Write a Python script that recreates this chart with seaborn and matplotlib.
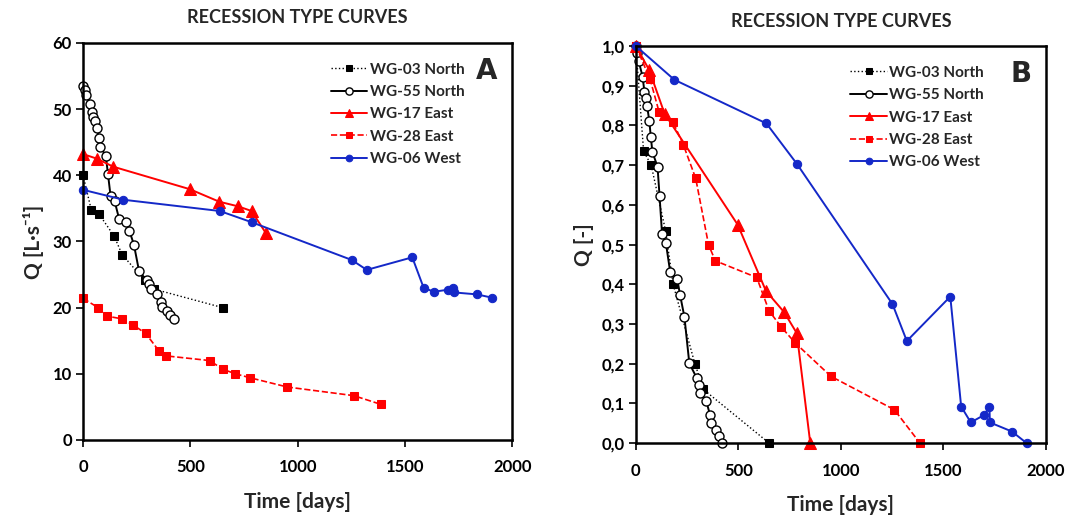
import matplotlib
matplotlib.use("Agg")
import matplotlib.pyplot as plt
import seaborn as sns
from matplotlib.ticker import FuncFormatter

# --- data ---
# WG-03 North
days_03 = [0, 38, 75, 145, 182, 288, 330, 650]
q_03 = [40.0, 34.8, 34.1, 30.8, 28.0, 24.1, 22.8, 20.0]
n_03 = [1.0, 0.735, 0.70, 0.535, 0.40, 0.20, 0.135, 0.0]

# WG-55 North
days_55 = [0, 7, 14, 33, 42, 48, 55, 66, 73, 81, 106, 116, 128, 147,
           168, 202, 216, 237, 261, 297, 307, 315, 343, 362, 367, 389, 405, 422]
q_55 = [53.5, 52.9, 52.2, 50.8, 49.5, 48.8, 48.2, 47.1, 45.7, 44.3, 42.9, 40.2, 36.9, 36.1,
        33.4, 32.9, 31.6, 29.5, 25.5, 24.1, 23.5, 22.8, 22.1, 20.8, 20.1, 19.5, 18.9, 18.3]
n_55 = [1.0, 0.983, 0.962, 0.923, 0.885, 0.868, 0.849, 0.811, 0.772, 0.733, 0.696, 0.621, 0.527, 0.503,
        0.43, 0.413, 0.373, 0.318, 0.201, 0.164, 0.147, 0.126, 0.107, 0.071, 0.05, 0.033, 0.018, 0.0]

# WG-17 East
days_17 = [0, 65, 140, 497, 635, 723, 785, 851]
q_17 = [43.2, 42.5, 41.3, 37.9, 36.0, 35.3, 34.6, 31.3]
n_17 = [1.0, 0.94, 0.83, 0.55, 0.383, 0.33, 0.277, 0.0]

# WG-28 East
days_28 = [0, 70, 113, 182, 232, 292, 355, 388, 590, 650, 710, 778, 952, 1261, 1386]
q_28 = [21.4, 20.0, 18.7, 18.3, 17.4, 16.1, 13.4, 12.7, 12.0, 10.7, 10.0, 9.4, 8.0, 6.7, 5.4]
n_28 = [1.0, 0.916, 0.835, 0.808, 0.751, 0.667, 0.499, 0.459, 0.417, 0.333, 0.292, 0.252, 0.168, 0.084, 0.0]

# WG-06 West
days_06 = [0, 188, 637, 786, 1252, 1322, 1534, 1587, 1634, 1700, 1725, 1727, 1835, 1906]
q_06 = [37.8, 36.3, 34.6, 32.9, 27.2, 25.7, 27.6, 23.0, 22.4, 22.7, 23.0, 22.3, 22.0, 21.5]
n_06 = [1.0, 0.915, 0.805, 0.703, 0.35, 0.257, 0.369, 0.092, 0.052, 0.071, 0.092, 0.052, 0.029, 0.0]

labels = ["WG-03 North", "WG-55 North", "WG-17 East", "WG-28 East", "WG-06 West"]
BLUE = "#1428c8"

sns.set_theme(style="white")
plt.rcParams["font.family"] = ["Lato", "DejaVu Sans"]
plt.rcParams["font.weight"] = "bold"

fig = plt.figure(figsize=(10.65, 5.17), dpi=100)
ax_a = fig.add_axes([0.078, 0.149, 0.403, 0.768])
ax_b = fig.add_axes([0.597, 0.143, 0.385, 0.768])


def draw_panel(ax, y03, y55, y17, y28, y06):
    common = dict(ax=ax, sort=False, estimator=None, clip_on=False)
    sns.lineplot(x=days_03, y=y03, color="black", linestyle=":", linewidth=1.0,
                 marker="s", markersize=6, markeredgecolor="black", label=labels[0], **common)
    sns.lineplot(x=days_55, y=y55, color="black", linestyle="-", linewidth=1.4,
                 marker="o", markersize=6.5, markerfacecolor="white", markeredgecolor="black",
                 markeredgewidth=1.0, label=labels[1], **common)
    sns.lineplot(x=days_17, y=y17, color="red", linestyle="-", linewidth=1.4,
                 marker="^", markersize=8, markeredgecolor="red", label=labels[2], **common)
    sns.lineplot(x=days_28, y=y28, color="red", linestyle="--", linewidth=1.2,
                 marker="s", markersize=6, markeredgecolor="red", label=labels[3], **common)
    sns.lineplot(x=days_06, y=y06, color=BLUE, linestyle="-", linewidth=1.4,
                 marker="o", markersize=6, markeredgecolor=BLUE, label=labels[4], **common)

    ax.set_xlim(0, 2000)
    ax.set_xticks([0, 500, 1000, 1500, 2000])
    for s in ax.spines.values():
        s.set_visible(True)
        s.set_color("black")
        s.set_linewidth(1.8)
    ax.tick_params(direction="out", length=5, width=1.2, colors="black",
                   labelsize=12, bottom=True, left=True)
    ax.tick_params(axis="x", pad=9)
    ax.tick_params(axis="y", pad=3)
    for t in ax.get_xticklabels() + ax.get_yticklabels():
        t.set_fontweight("bold")
    ax.set_xlabel("Time [days]", fontsize=15, fontweight="bold", labelpad=12)
    ax.set_title("RECESSION TYPE CURVES", fontsize=13, fontweight="bold", pad=14)
    ax.grid(False)


def panel_legend(ax, x0):
    ax.legend(loc="upper left", bbox_to_anchor=(x0, 0.985), frameon=False,
              prop={"size": 11, "weight": "bold"}, handlelength=2.4, labelspacing=0.55,
              handletextpad=0.15, markerscale=0.8)


draw_panel(ax_a, q_03, q_55, q_17, q_28, q_06)
ax_a.set_ylim(0, 60)
ax_a.set_yticks(range(0, 61, 10))
ax_a.set_ylabel("Q [L·s⁻¹]", fontsize=15, fontweight="bold", labelpad=6)
panel_legend(ax_a, 0.545)
ax_a.text(0.965, 0.965, "A", transform=ax_a.transAxes, ha="right", va="top",
          fontsize=20, fontweight="bold", family="DejaVu Sans")

draw_panel(ax_b, n_03, n_55, n_17, n_28, n_06)
ax_b.set_ylim(0, 1.0)
ax_b.set_yticks([i / 10 for i in range(11)])
ax_b.yaxis.set_major_formatter(FuncFormatter(lambda v, p: f"{v:.1f}".replace(".", ",")))
for t in ax_b.get_yticklabels():
    t.set_fontweight("bold")
ax_b.set_ylabel("Q [-]", fontsize=15, fontweight="bold", labelpad=5)
panel_legend(ax_b, 0.49)
ax_b.text(0.965, 0.965, "B", transform=ax_b.transAxes, ha="right", va="top",
          fontsize=20, fontweight="bold", family="DejaVu Sans")

fig.savefig("out.png", dpi=100)
